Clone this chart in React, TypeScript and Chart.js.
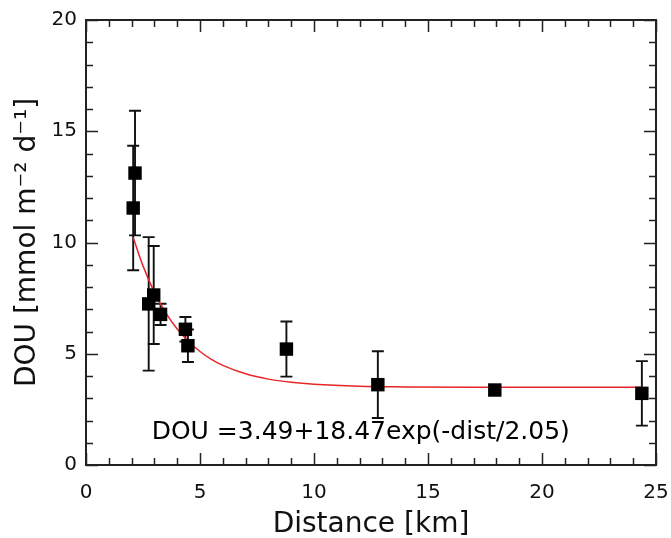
import React, { useEffect, useRef } from "react";
import { Chart, registerables } from "chart.js";

Chart.register(...registerables);

// Observed DOU values
const distanceKm = [2.07, 2.15, 2.75, 2.97, 3.27, 4.36, 4.47, 8.79, 12.8, 17.93, 24.38];
const dou = [11.55, 13.12, 7.24, 7.64, 6.77, 6.1, 5.36, 5.21, 3.61, 3.37, 3.22];
const douErr = [2.8, 2.8, 3.0, 2.2, 0.48, 0.55, 0.73, 1.24, 1.5, 0.2, 1.45];

// Fitted curve DOU = 3.49 + 18.47 exp(-dist/2.05), sampled values
const fitX = [2.07, 2.5, 3, 3.5, 4, 4.5, 5, 5.5, 6, 7, 8, 9, 10, 12, 14, 17, 20, 24.4];
const fitY = [10.22, 8.95, 7.76, 6.84, 6.11, 5.55, 5.1, 4.75, 4.48, 4.1, 3.86, 3.72, 3.63, 3.54, 3.51, 3.49, 3.49, 3.49];

const fitLabel = "DOU =3.49+18.47exp(-dist/2.05)";
const xTitle = "Distance [km]";
const yTitle = "DOU [mmol m\u207B\u00B2 d\u207B\u00B9]";

const FONT = "'DejaVu Sans', sans-serif";

const errorBarPlugin = {
  id: "errorBars",
  beforeDatasetsDraw(chart: any) {
    const { ctx, scales } = chart;
    const xs = scales.x;
    const ys = scales.y;
    ctx.save();
    ctx.strokeStyle = "#111";
    ctx.lineWidth = 1.9;
    const cap = 6;
    for (let i = 0; i < distanceKm.length; i++) {
      const px = xs.getPixelForValue(distanceKm[i]);
      const top = ys.getPixelForValue(dou[i] + douErr[i]);
      const bot = ys.getPixelForValue(dou[i] - douErr[i]);
      ctx.beginPath();
      ctx.moveTo(px, top);
      ctx.lineTo(px, bot);
      ctx.moveTo(px - cap, top);
      ctx.lineTo(px + cap, top);
      ctx.moveTo(px - cap, bot);
      ctx.lineTo(px + cap, bot);
      ctx.stroke();
    }
    ctx.restore();
  },
};

const framePlugin = {
  id: "frameTicks",
  afterDraw(chart: any) {
    const { ctx, chartArea, scales } = chart;
    const { left, right, top, bottom } = chartArea;
    ctx.save();
    ctx.strokeStyle = "#222";
    ctx.lineWidth = 2;
    ctx.strokeRect(left, top, right - left, bottom - top);
    ctx.lineWidth = 1.5;
    const major = 12;
    const minor = 7;
    ctx.beginPath();
    for (let v = 0; v <= 25; v++) {
      const px = Math.round(scales.x.getPixelForValue(v)) + 0.5;
      const len = v % 5 === 0 ? major : minor;
      ctx.moveTo(px, bottom);
      ctx.lineTo(px, bottom - len);
      ctx.moveTo(px, top);
      ctx.lineTo(px, top + len);
    }
    for (let v = 0; v <= 20; v++) {
      const py = Math.round(scales.y.getPixelForValue(v)) + 0.5;
      const len = v % 5 === 0 ? major : minor;
      ctx.moveTo(left, py);
      ctx.lineTo(left + len, py);
      ctx.moveTo(right, py);
      ctx.lineTo(right - len, py);
    }
    ctx.stroke();

    // fit equation annotation
    ctx.fillStyle = "#000";
    ctx.font = `25px ${FONT}`;
    ctx.textAlign = "center";
    ctx.textBaseline = "middle";
    ctx.fillText(fitLabel, scales.x.getPixelForValue(12.05), scales.y.getPixelForValue(1.45));
    ctx.restore();
  },
};

export default function App() {
  const ref = useRef<HTMLCanvasElement>(null);
  useEffect(() => {
    if (!ref.current) return;
    const chart = new Chart(ref.current, {
      type: "scatter",
      data: {
        datasets: [
          {
            type: "line",
            label: "fit",
            data: fitX.map((x, i) => ({ x, y: fitY[i] })),
            borderColor: "#e8262a",
            borderWidth: 1.5,
            pointRadius: 0,
            showLine: true,
            fill: false,
            cubicInterpolationMode: "monotone",
            order: 2,
          } as any,
          {
            label: "DOU",
            data: distanceKm.map((x, i) => ({ x, y: dou[i] })),
            pointStyle: "rect",
            pointRadius: 9.5,
            pointHoverRadius: 9.5,
            backgroundColor: "#000",
            borderColor: "#000",
            borderWidth: 0,
            order: 1,
          },
        ],
      },
      options: {
        animation: false,
        responsive: false,
        maintainAspectRatio: false,
        layout: { padding: { top: 20, right: 15, left: 0, bottom: 0 } },
        plugins: {
          legend: { display: false },
          tooltip: { enabled: false },
        },
        scales: {
          x: {
            type: "linear",
            min: 0,
            max: 25,
            border: { display: false },
            grid: { display: false, drawTicks: false },
            ticks: {
              stepSize: 5,
              color: "#111",
              padding: 16,
              font: { family: FONT, size: 20 },
              maxRotation: 0,
            },
            title: {
              display: true,
              text: xTitle,
              color: "#111",
              font: { family: FONT, size: 28 },
              padding: { top: 0, bottom: -4 },
            },
            afterFit(scale: any) {
              scale.height = 73;
              scale.paddingLeft = 0;
              scale.paddingRight = 0;
            },
          },
          y: {
            type: "linear",
            min: 0,
            max: 20,
            border: { display: false },
            grid: { display: false, drawTicks: false },
            ticks: {
              stepSize: 5,
              color: "#111",
              padding: 9,
              font: { family: FONT, size: 20 },
            },
            title: {
              display: true,
              text: yTitle,
              color: "#111",
              font: { family: FONT, size: 28 },
              padding: { top: 11, bottom: 0 },
            },
            afterFit(scale: any) {
              scale.width = 86;
              scale.paddingTop = 0;
              scale.paddingBottom = 0;
            },
          },
        },
      },
      plugins: [errorBarPlugin, framePlugin],
    });
    return () => chart.destroy();
  }, []);
  return (
    <div style={{ position: "fixed", left: 0, top: 0, width: 671, height: 538, background: "#fff" }}>
      <canvas ref={ref} width={671} height={538} style={{ width: 671, height: 538 }} />
    </div>
  );
}
